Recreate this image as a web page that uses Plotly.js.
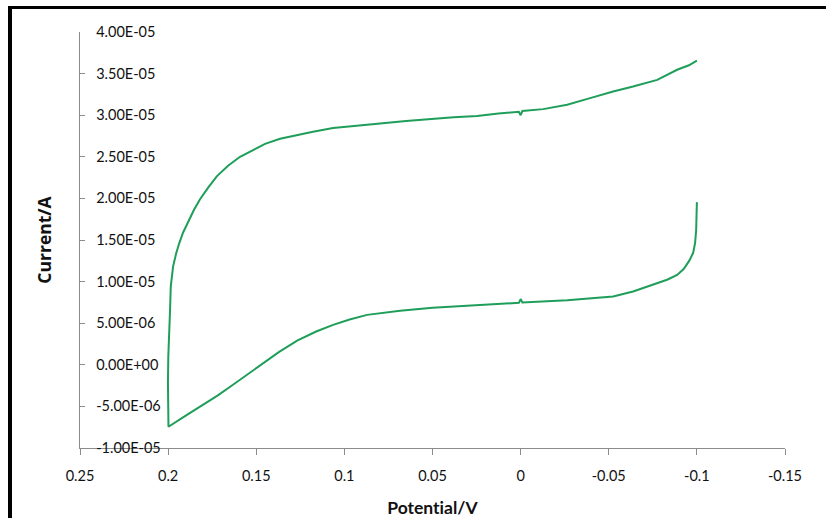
<!DOCTYPE html>
<html>
<head>
<meta charset="utf-8">
<script src="https://cdn.plot.ly/plotly-3.0.1.min.js"></script>
<style>
  html, body { margin: 0; padding: 0; background: #fff; }
  #wrap { position: relative; width: 826px; height: 518px; overflow: hidden; }
  #chart { width: 826px; height: 518px; }
  .bar { position: absolute; background: #000; }
  text { font-variant-ligatures: none; font-feature-settings: "liga" 0; }
</style>
</head>
<body>
<div id="wrap">
  <div id="chart"></div>
  <div class="bar" style="left:8px; top:6px; right:0; height:3px;"></div>
  <div class="bar" style="left:8px; top:6px; bottom:0; width:4px;"></div>
</div>
<script>
// Cyclic voltammogram: potential (V) and current (A)
const potential = [
  -0.1, -0.0955, -0.0888, -0.0775, -0.0638, -0.0525, -0.0394, -0.0264, -0.0128, -0.001, 0, 0.001,
  0.0125, 0.0247, 0.038, 0.0514, 0.065, 0.0797, 0.093, 0.1064, 0.1178, 0.129, 0.1365,
  0.145, 0.1535, 0.1592, 0.166, 0.1724, 0.1774, 0.1819, 0.1853, 0.1887, 0.1915, 0.1938,
  0.1955, 0.1972, 0.1978, 0.1985, 0.1989, 0.1995, 0.1999, 0.2001, 0.2001, 0.1998,
  0.19, 0.1819, 0.172, 0.1632, 0.155, 0.1478, 0.137, 0.1268, 0.116, 0.1064,
  0.097, 0.0871, 0.0684, 0.05, 0.0304, 0.015, 0.001, 0, -0.001, -0.0264,
  -0.0525, -0.0638, -0.0752, -0.0831, -0.0888, -0.0925, -0.0958, -0.0979, -0.099, -0.0996, -0.1
];
const current = [
  3.655e-5, 3.6e-5, 3.546e-5, 3.425e-5, 3.345e-5, 3.285e-5, 3.205e-5, 3.125e-5, 3.073e-5, 3.05e-5, 3.0e-5, 3.04e-5,
  3.02e-5, 2.99e-5, 2.975e-5, 2.955e-5, 2.93e-5, 2.90e-5, 2.875e-5, 2.845e-5, 2.80e-5, 2.745e-5, 2.716e-5,
  2.656e-5, 2.565e-5, 2.5e-5, 2.392e-5, 2.265e-5, 2.127e-5, 1.99e-5, 1.863e-5, 1.719e-5, 1.59e-5, 1.454e-5,
  1.334e-5, 1.18e-5, 1.082e-5, 9.4e-6, 6.61e-6, 3.9e-6, 1.0e-6, -2.2e-6, -5.0e-6, -7.45e-6,
  -6.1e-6, -5.05e-6, -3.7e-6, -2.4e-6, -1.15e-6, 0, 1.55e-6, 2.9e-6, 4.0e-6, 4.8e-6,
  5.45e-6, 6.0e-6, 6.5e-6, 6.85e-6, 7.1e-6, 7.3e-6, 7.45e-6, 7.9e-6, 7.5e-6, 7.75e-6,
  8.21e-6, 8.81e-6, 9.62e-6, 1.022e-5, 1.08e-5, 1.15e-5, 1.255e-5, 1.346e-5, 1.466e-5, 1.62e-5, 1.955e-5
];

const xTickVals = [0.25, 0.2, 0.15, 0.1, 0.05, 0, -0.05, -0.1, -0.15];
const xTickText = ['0.25', '0.2', '0.15', '0.1', '0.05', '0', '-0.05', '-0.1', '-0.15'];
const yTickVals = [-1e-5, -5e-6, 0, 5e-6, 1e-5, 1.5e-5, 2e-5, 2.5e-5, 3e-5, 3.5e-5, 4e-5];
const yTickText = ['-1.00E-05', '-5.00E-06', '0.00E+00', '5.00E-06', '1.00E-05', '1.50E-05',
                   '2.00E-05', '2.50E-05', '3.00E-05', '3.50E-05', '4.00E-05'];

const axisColor = '#8c8c8c';
const tickFont = { family: 'Lato, sans-serif', size: 14.5, color: '#111' };

const traces = [
  {
    x: potential, y: current, type: 'scatter', mode: 'lines',
    line: { color: '#1f9e5a', width: 2 }, hoverinfo: 'skip', showlegend: false
  },
  { x: [], y: [], yaxis: 'y2', type: 'scatter', mode: 'lines', showlegend: false, hoverinfo: 'skip' }
];

const layout = {
  width: 826, height: 518,
  margin: { l: 80, r: 41, t: 32, b: 70 },
  paper_bgcolor: '#fff', plot_bgcolor: '#fff',
  showlegend: false,
  xaxis: {
    range: [0.25, -0.15], autorange: false,
    showline: true, linecolor: axisColor, linewidth: 1,
    ticks: 'outside', ticklen: 6, tickcolor: axisColor, tickwidth: 1,
    tickvals: xTickVals, ticktext: xTickText, tickfont: tickFont,
    ticklabelstandoff: 9,
    showgrid: false, zeroline: false,
    title: { text: 'Potential/V', font: { family: 'Lato, sans-serif', size: 17.5, weight: 'bold', color: '#111' }, standoff: 18 }
  },
  yaxis: {
    range: [-1e-5, 4e-5], autorange: false,
    showline: true, linecolor: axisColor, linewidth: 1,
    ticks: 'inside', ticklen: 5, tickcolor: axisColor, tickwidth: 1,
    tickvals: yTickVals, showticklabels: false,
    showgrid: false, zeroline: false,
    title: { text: 'Current/A', font: { family: 'Open Sans, sans-serif', size: 17.5, weight: 'bold', color: '#111' }, standoff: 22 }
  },
  yaxis2: {
    overlaying: 'y', side: 'right', anchor: 'free', position: 0.0215,
    range: [-1e-5, 4e-5], autorange: false,
    showline: false, ticks: '', showgrid: false, zeroline: false,
    tickvals: yTickVals, ticktext: yTickText, tickfont: tickFont
  }
};

Plotly.newPlot('chart', traces, layout, { displayModeBar: false, staticPlot: true });
</script>
</body>
</html>
